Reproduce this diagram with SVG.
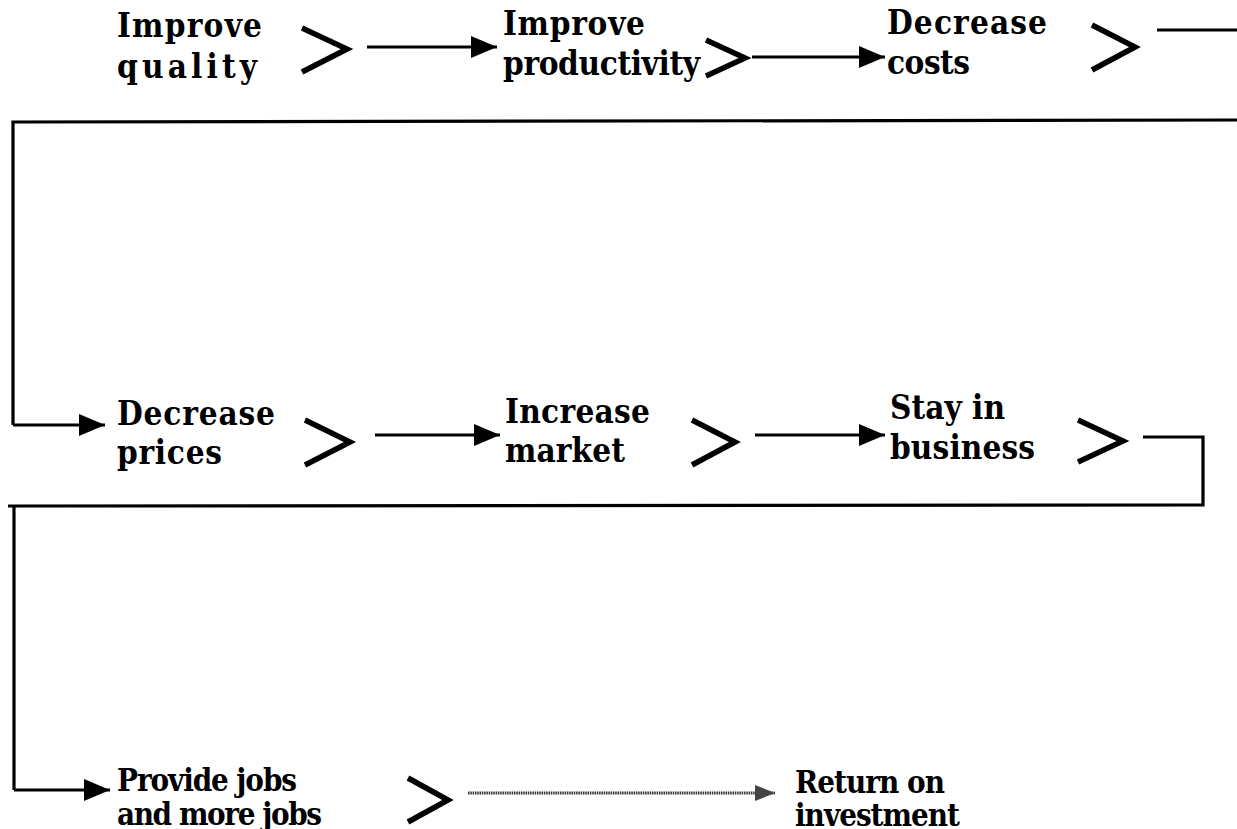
<svg xmlns="http://www.w3.org/2000/svg" width="1237" height="829" viewBox="0 0 1237 829">
<style>
.t{font-family:"DejaVu Serif Condensed","DejaVu Serif","Liberation Serif",serif;font-stretch:condensed;font-weight:bold;font-size:33px;fill:#000}
.s{font-size:31px}
.ln{fill:none;stroke:#000;stroke-width:3.2;stroke-linecap:butt}
.ch{fill:none;stroke:#000;stroke-width:5.5;stroke-linejoin:miter;stroke-linecap:butt}
.dot{fill:none;stroke:#333;stroke-width:3;stroke-dasharray:1.5 0.8}
</style>
<defs>
<marker id="ah" markerUnits="userSpaceOnUse" viewBox="0 0 26 22" refX="26" refY="11" markerWidth="26" markerHeight="22" orient="auto">
<path d="M0,0 L26,11 L0,22 Z" fill="#000"/>
</marker>
<marker id="ahg" markerUnits="userSpaceOnUse" viewBox="0 0 20 16" refX="20" refY="8" markerWidth="20" markerHeight="16" orient="auto">
<path d="M0,0 L20,8 L0,16 Z" fill="#444"/>
</marker>
</defs>
<g id="n1"><text class="t" x="117" y="37" textLength="145">Improve</text><text class="t" x="117" y="78" textLength="140">quality</text></g>
<g id="n2"><text class="t" x="503" y="35" textLength="142">Improve</text><text class="t" x="503" y="75" textLength="197">productivity</text></g>
<g id="n3"><text class="t" x="887" y="34" textLength="160">Decrease</text><text class="t" x="887" y="74" textLength="83">costs</text></g>
<g id="n4"><text class="t" x="117" y="425" textLength="158">Decrease</text><text class="t" x="117" y="464" textLength="105">prices</text></g>
<g id="n5"><text class="t" x="505" y="423" textLength="145">Increase</text><text class="t" x="505" y="462" textLength="120">market</text></g>
<g id="n6"><text class="t" x="890" y="419" textLength="115">Stay in</text><text class="t" x="890" y="459" textLength="145">business</text></g>
<g id="n7"><text class="t s" x="117" y="791" textLength="180">Provide jobs</text><text class="t s" x="117" y="825" textLength="205">and more jobs</text></g>
<g id="n8"><text class="t s" x="795" y="793" textLength="150">Return on</text><text class="t s" x="795" y="826" textLength="165">investment</text></g>
<g id="connectors">
<polyline class="ch" points="302,28 347,49 302,72"/>
<line class="ln" x1="367" y1="47" x2="497" y2="47" marker-end="url(#ah)"/>
<polyline class="ch" points="706,40 745,58 706,76"/>
<line class="ln" x1="752" y1="57" x2="885" y2="57" marker-end="url(#ah)"/>
<polyline class="ch" points="1092,25 1135,47 1092,70"/>
<line class="ln" x1="1157" y1="30" x2="1237" y2="30"/>
<polyline class="ln" points="1237,120 13,122 13,425"/>
<line class="ln" x1="13" y1="425" x2="105" y2="425" marker-end="url(#ah)"/>
<polyline class="ch" points="305,420 350,442 305,465"/>
<line class="ln" x1="375" y1="435" x2="500" y2="435" marker-end="url(#ah)"/>
<polyline class="ch" points="692,420 735,442 692,465"/>
<line class="ln" x1="755" y1="435" x2="885" y2="435" marker-end="url(#ah)"/>
<polyline class="ch" points="1078,420 1123,441 1078,462"/>
<polyline class="ln" points="1143,437 1203,437 1203,505 8,506"/>
<polyline class="ln" points="14,506 14,790"/>
<line class="ln" x1="14" y1="790" x2="110" y2="790" marker-end="url(#ah)"/>
<polyline class="ch" points="408,778 448,800 408,822"/>
<line class="dot" x1="468" y1="793" x2="775" y2="793" marker-end="url(#ahg)"/>
</g>
</svg>
